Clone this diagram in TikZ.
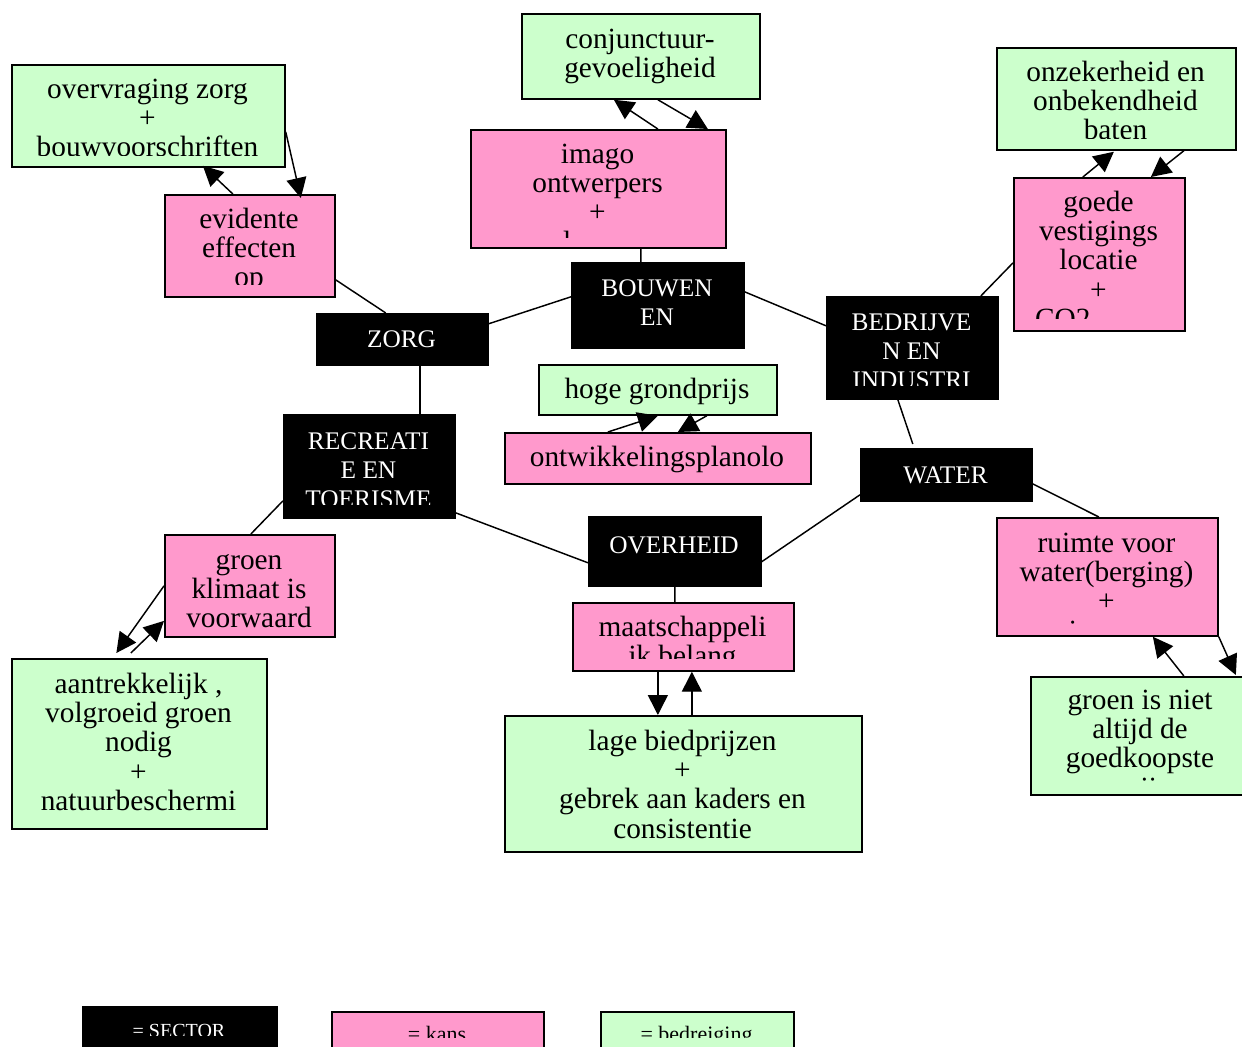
\documentclass[tikz,border=0pt]{standalone}
\usepackage{fontspec}
\setmainfont{Liberation Serif}
\usepackage{graphicx}
\usetikzlibrary{arrows.meta}
\definecolor{kanspink}{RGB}{255,153,204}
\definecolor{bedrgreen}{RGB}{204,255,204}
\newcommand\mystrut{\rule{0pt}{0.75em}}
\newcommand\boxnode[6]{\node[#2, anchor=north west, minimum width={(#5-#3)*0.75pt}, minimum height={(#6-#4)*0.75pt}] (#1) at (#3,#4) {};}
\newcommand\boxtext[7]{\begin{scope}\clip (#3+2,#6-12) rectangle (#4-2,#5);\node[#2, anchor=north] (#1) at ({(#3+#4)/2},#6) {\mystrut#7};\end{scope}}
\begin{document}
\begin{tikzpicture}[x=0.75pt,y=-0.75pt,
  sectorbox/.style={draw=black, fill=black, inner sep=0pt, line width=1.2pt},
  kansbox/.style={draw=black, fill=kanspink, inner sep=0pt, line width=1.3pt},
  bedrbox/.style={draw=black, fill=bedrgreen, inner sep=0pt, line width=1.3pt},
  maintext/.style={inner sep=0pt, align=center, text=black, font=\fontsize{22}{22}\selectfont},
  sectortext/.style={inner sep=0pt, align=center, text=white, font=\fontsize{19}{22}\selectfont},
  legsectext/.style={inner sep=0pt, align=center, text=white, font=\fontsize{15}{18}\selectfont},
  legtext/.style={inner sep=0pt, align=center, text=black, font=\fontsize{16.5}{18}\selectfont},
  conn/.style={draw=black, line width=1.1pt},
  arr/.style={draw=black, line width=1.1pt, -{Triangle[length=15pt,width=15pt]}}]
\path[use as bounding box] (0,0) rectangle (1242,1046);
\clip (0,0) rectangle (1242,1046);
% boxes
\boxnode{ovz}{bedrbox}{11}{64}{284}{166}
\boxnode{evi}{kansbox}{164}{194}{334}{296}
\boxnode{con}{bedrbox}{521}{13}{759}{98}
\boxnode{ima}{kansbox}{470}{129}{725}{247}
\boxnode{bou}{sectorbox}{571}{262}{743}{347}
\boxnode{zor}{sectorbox}{316}{313}{487}{364}
\boxnode{bed}{sectorbox}{826}{296}{997}{398}
\boxnode{onz}{bedrbox}{996}{47}{1235}{149}
\boxnode{goe}{kansbox}{1013}{177}{1184}{330}
\boxnode{hog}{bedrbox}{538}{364}{776}{414}
\boxnode{ont}{kansbox}{504}{432}{810}{483}
\boxnode{rec}{sectorbox}{283}{414}{454}{517}
\boxnode{wat}{sectorbox}{860}{448}{1031}{500}
\boxnode{ove}{sectorbox}{588}{516}{760}{585}
\boxnode{grk}{kansbox}{164}{534}{334}{636}
\boxnode{maa}{kansbox}{572}{602}{793}{670}
\boxnode{rui}{kansbox}{996}{517}{1217}{635}
\boxnode{aan}{bedrbox}{11}{658}{266}{828}
\boxnode{lag}{bedrbox}{504}{715}{861}{851}
\boxnode{gin}{bedrbox}{1030}{676}{1250}{794}
\boxnode{lsec}{sectorbox}{82}{1006}{276}{1060}
\boxnode{lkan}{kansbox}{331}{1011}{543}{1060}
\boxnode{lbdr}{bedrbox}{600}{1011}{793}{1060}
% texts
\boxtext{ovzt}{maintext}{11}{284}{155}{76}{overvraging zorg\\+\\bouwvoorschriften}
\boxtext{evit}{maintext}{164}{334}{284}{206}{evidente\\effecten\\op}
\boxtext{cont}{maintext}{521}{759}{95}{26}{conjunctuur-\\gevoeligheid}
\boxtext{imat}{maintext}{470}{725}{237}{141}{imago\\ontwerpers\\+\\\makebox[2.35em][l]{l}}
\boxtext{bout}{sectortext}{571}{743}{344}{277}{BOUWEN\\EN}
\boxtext{zort}{sectortext}{316}{487}{361}{328}{ZORG}
\boxtext{bedt}{sectortext}{826}{997}{385}{311}{BEDRIJVE\\N EN\\INDUSTRI}
\boxtext{onzt}{maintext}{996}{1235}{138}{59}{onzekerheid en\\onbekendheid\\baten}
\boxtext{goet}{maintext}{1013}{1184}{318}{189}{goede\\vestigings\\locatie\\+\\\makebox[4.33em][l]{CO2}}
\boxtext{hogt}{maintext}{538}{776}{411}{376}{hoge grondprijs}
\boxtext{ontt}{maintext}{504}{810}{480}{444}{ontwikkelingsplanolo}
\boxtext{rect}{sectortext}{283}{454}{504}{430}{RECREATI\\E EN\\TOERISME}
\boxtext{watt}{sectortext}{860}{1031}{497}{464}{WATER}
\boxtext{ovet}{sectortext}{588}{760}{582}{534}{OVERHEID}
\boxtext{grkt}{maintext}{164}{334}{627}{547}{groen\\klimaat is\\voorwaard}
\boxtext{maat}{maintext}{572}{793}{658}{614}{maatschappeli\\jk belang}
\boxtext{ruit}{maintext}{996}{1217}{624}{530}{ruimte voor\\water(berging)\\+\\\makebox[2.56em][l]{i}}
\boxtext{aant}{maintext}{11}{266}{825}{671}{aantrekkelijk ,\\volgroeid groen\\nodig\\+\\natuurbeschermi}
\boxtext{lagt}{maintext}{504}{861}{848}{728}{lage biedprijzen\\+\\gebrek aan kaders en\\consistentie}
\boxtext{gint}{maintext}{1030}{1250}{782}{687}{groen is niet\\altijd de\\goedkoopste\\\makebox[1.15em][r]{ij}}
\boxtext{lsect}{legsectext}{82}{276}{1035}{1022}{= SECTOR}
\boxtext{lkant}{legtext}{331}{543}{1037}{1024.5}{= kans}
\boxtext{lbdrt}{legtext}{600}{793}{1037}{1024.5}{= bedreiging}
% plain connectors
\draw[conn] ([shift={(0,34)}]evi.east) -- ([shift={(-16.5,0)}]zor.north);
\draw[conn] ([shift={(0,-15.5)}]zor.east) -- ([shift={(0,-8.5)}]bou.west);
\draw[conn] ([shift={(42.5,0)}]ima.south) -- ([shift={(-17,0)}]bou.north);
\draw[conn] ([shift={(0,-13.5)}]bou.east) -- ([shift={(0,-22)}]bed.west);
\draw[conn] ([shift={(68.5,0)}]bed.north) -- ([shift={(0,8.5)}]goe.west);
\draw[conn] ([shift={(-14.5,0)}]bed.south) -- ([shift={(-33.5,-4)}]wat.north);
\draw[conn] ([shift={(17.5,0)}]zor.south) -- ([shift={(50.5,0)}]rec.north);
\draw[conn] ([shift={(0,34.5)}]rec.west) -- ([shift={(1,0)}]grk.north);
\draw[conn] ([shift={(0,46.5)}]rec.east) -- ([shift={(0,11.5)}]ove.west);
\draw[conn] ([shift={(0,20)}]wat.west) -- ([shift={(0,10.5)}]ove.east);
\draw[conn] (ove.south) -- ([shift={(-8.5,0)}]maa.north);
\draw[conn] ([shift={(0,9)}]wat.east) -- ([shift={(-8.5,0)}]rui.north);
% arrows
\draw[arr] ([shift={(-17,0)}]evi.north) -- ([shift={(54.5,-2)}]ovz.south);
\draw[arr] ([shift={(0,16)}]ovz.east) -- ([shift={(51,4)}]evi.north);
\draw[arr] ([shift={(59.5,0)}]ima.north) -- ([shift={(-27,0)}]con.south);
\draw[arr] ([shift={(17,0)}]con.south) -- ([shift={(109.5,0)}]ima.north);
\draw[arr] ([shift={(-16.5,0)}]goe.north) -- ([shift={(-2.5,1)}]onz.south);
\draw[arr] ([shift={(67.5,0)}]onz.south) -- ([shift={(51.5,0)}]goe.north);
\draw[arr] ([shift={(-50,0)}]ont.north) -- (hog.south);
\draw[arr] ([shift={(49,0)}]hog.south) -- ([shift={(20,0)}]ont.north);
\draw[arr] (grk.west) -- ([shift={(-23,-5)}]aan.north);
\draw[arr] ([shift={(-8.5,-5)}]aan.north) -- ([shift={(0,35)}]grk.west);
\draw[arr] ([shift={(-25.5,0)}]maa.south) -- ([shift={(-25.5,0)}]lag.north);
\draw[arr] ([shift={(8.5,0)}]lag.north) -- ([shift={(8.5,0)}]maa.south);
\draw[arr] (rui.south east) -- ([shift={(95,-1)}]gin.north);
\draw[arr] ([shift={(43,0)}]gin.north) -- ([shift={(45.5,0)}]rui.south);
\end{tikzpicture}
\end{document}
